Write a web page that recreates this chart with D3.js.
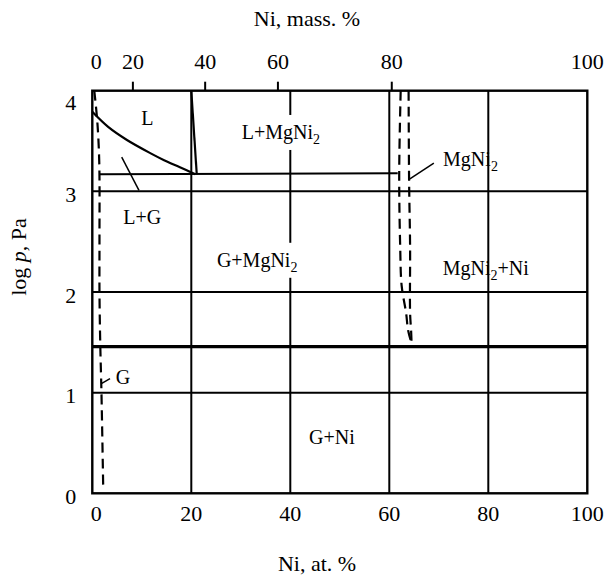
<!DOCTYPE html>
<html>
<head>
<meta charset="utf-8">
<script src="https://cdn.jsdelivr.net/npm/d3@7.9.0/dist/d3.min.js"></script>
<style>
  html, body { margin: 0; padding: 0; background: #fff; }
  svg { display: block; }
  svg text { font-family: "Liberation Serif", "Times New Roman", Times, serif; }
</style>
</head>
<body>
<svg id="chart" width="605" height="578" font-family="Liberation Serif, Times New Roman, serif"></svg>
<script>
/* ------------------------------- data ------------------------------- */
// bottom axis: Ni, at. %   left axis: log p, Pa
const atTicks = [0, 20, 40, 60, 80, 100];
const logTicks = [0, 1, 2, 3, 4];
// top axis: Ni, mass. % labels and where they sit on the at.% scale
const massLabels = [0, 20, 40, 60, 80, 100];
const massAtPos = [0, 8.2, 22.8, 37.5, 60.5, 100];

// liquidus of Mg-rich melt (solid)
const liqX = [0, 3.2, 7.0, 11.7, 14.5, 17.7, 20.8];
const liqY = [3.79, 3.64, 3.51, 3.38, 3.31, 3.24, 3.17];
// steep MgNi2 liquidus (solid)
const mgLiqX = [20.0, 21.1];
const mgLiqY = [4.0, 3.17];
// three-phase horizontal (solid)
const triX = [1.55, 61.7];
const triY = [3.17, 3.18];
// MgNi2 decomposition pressure (thick solid)
const decompX = [0, 100];
const decompY = [1.457, 1.457];
// gas boundary on the Mg side (dashed)
const gasX = [0.4, 1.0, 1.4, 1.45, 1.45, 1.6, 1.85, 2.2];
const gasY = [4.0, 3.7, 3.3, 2.5, 2.0, 1.5, 1.0, 0.07];
// MgNi2 homogeneity range (dashed)
const mgLeftX = [62.3, 62.0, 62.2, 62.5, 63.4, 63.8, 64.5];
const mgLeftY = [4.0, 3.17, 2.45, 2.06, 1.79, 1.62, 1.49];
const mgRightX = [63.9, 64.0, 64.2, 64.2, 64.4, 64.5];
const mgRightY = [4.0, 3.1, 2.45, 1.79, 1.62, 1.49];

// phase field labels: [text, sub, after, at%, log p, knockout]
const fieldLabels = [
  ["L", "", "", 11.1, 3.73, false],
  ["L+MgNi", "2", "", 38.1, 3.59, true],
  ["L+G", "", "", 10.1, 2.75, false],
  ["G+MgNi", "2", "", 33.3, 2.32, true],
  ["MgNi", "2", "", 76.4, 3.32, false],
  ["MgNi", "2", "+Ni", 79.5, 2.24, false],
  ["G", "", "", 6.2, 1.16, false],
  ["G+Ni", "", "", 48.4, 0.56, false]
];
// leader lines: [x1, y1, x2, y2] in at% / log p
const leaders = [
  [5.94, 3.34, 9.43, 3.01],
  [69.0, 3.28, 64.0, 3.12],
  [3.58, 1.14, 1.82, 1.09]
];

/* ------------------------------ scales ------------------------------ */
const svg = d3.select("#chart");
const x = d3.scaleLinear().domain([0, 100]).range([92.3, 587.3]);
const y = d3.scaleLinear().domain([0, 4]).range([493.3, 90.7]);

const zip = (xs, ys) => xs.map((v, i) => [v, ys[i]]);
const line = d3.line().x(d => x(d[0])).y(d => y(d[1]));
const smooth = d3.line().x(d => x(d[0])).y(d => y(d[1])).curve(d3.curveCatmullRom.alpha(0.5));

/* ------------------------------- grid ------------------------------- */
const grid = svg.append("g").attr("stroke", "#000").attr("stroke-width", 2);
grid.selectAll("line.v")
  .data(atTicks.slice(1, -1))
  .join("line")
  .attr("class", "v")
  .attr("x1", d => x(d)).attr("x2", d => x(d))
  .attr("y1", y(4)).attr("y2", y(0));
grid.selectAll("line.h")
  .data(logTicks.slice(1, -1))
  .join("line")
  .attr("class", "h")
  .attr("x1", x(0)).attr("x2", x(100))
  .attr("y1", d => y(d)).attr("y2", d => y(d));

// white knockouts behind some labels (the 40 at.% line is broken there)
const knock = svg.append("g");

// frame
svg.append("rect")
  .attr("x", x(0)).attr("y", y(4))
  .attr("width", x(100) - x(0)).attr("height", y(0) - y(4))
  .attr("fill", "none").attr("stroke", "#000").attr("stroke-width", 2.4);

/* ------------------------------- axes ------------------------------- */
const fs = 22;
// bottom labels
svg.append("g").selectAll("text")
  .data(atTicks)
  .join("text")
  .attr("x", d => x(d) + (d === 0 ? 4 : 0))
  .attr("y", 513.5).attr("dy", "0.35em")
  .attr("text-anchor", "middle").attr("font-size", fs)
  .text(d => d);
// left labels
svg.append("g").selectAll("text")
  .data(logTicks)
  .join("text")
  .attr("x", 70.7)
  .attr("y", d => y(d) + (d === 4 ? 12 : 3)).attr("dy", "0.35em")
  .attr("text-anchor", "middle").attr("font-size", fs)
  .text(d => d);
// top axis (mass %)
const massAxis = svg.append("g");
massAxis.selectAll("line")
  .data(massAtPos.slice(1, -1))
  .join("line")
  .attr("x1", d => x(d)).attr("x2", d => x(d))
  .attr("y1", y(4) - 9).attr("y2", y(4))
  .attr("stroke", "#000").attr("stroke-width", 2);
massAxis.selectAll("text")
  .data(massLabels)
  .join("text")
  .attr("x", (d, i) => x(massAtPos[i]) + (d === 0 ? 4 : 0))
  .attr("y", 61.5).attr("dy", "0.35em")
  .attr("text-anchor", "middle").attr("font-size", fs)
  .text(d => d);

// titles
svg.append("text")
  .attr("x", 307).attr("y", 18).attr("dy", "0.35em")
  .attr("text-anchor", "middle").attr("font-size", fs)
  .text("Ni, mass. %");
svg.append("text")
  .attr("x", 317).attr("y", 563).attr("dy", "0.35em")
  .attr("text-anchor", "middle").attr("font-size", fs)
  .text("Ni, at. %");
const yt = svg.append("text")
  .attr("transform", "translate(18,257) rotate(-90)")
  .attr("dy", "0.35em")
  .attr("text-anchor", "middle").attr("font-size", fs);
yt.append("tspan").text("log ");
yt.append("tspan").attr("font-style", "italic").text("p");
yt.append("tspan").text(", Pa");

/* ------------------------------ curves ------------------------------ */
const curves = svg.append("g").attr("fill", "none").attr("stroke", "#000");
curves.append("path").attr("d", smooth(zip(liqX, liqY))).attr("stroke-width", 2.2);
curves.append("path").attr("d", line(zip(mgLiqX, mgLiqY))).attr("stroke-width", 2.2);
curves.append("path").attr("d", line(zip(triX, triY))).attr("stroke-width", 2);
curves.append("path").attr("d", line(zip(decompX, decompY))).attr("stroke-width", 3.2);
curves.append("path").attr("d", smooth(zip(gasX, gasY)))
  .attr("stroke-width", 2.2).attr("stroke-dasharray", "10,6");
curves.append("path").attr("d", smooth(zip(mgLeftX, mgLeftY)))
  .attr("stroke-width", 2.2).attr("stroke-dasharray", "10,6");
curves.append("path").attr("d", smooth(zip(mgRightX, mgRightY)))
  .attr("stroke-width", 2.2).attr("stroke-dasharray", "10,6");

// leaders
svg.append("g").selectAll("line")
  .data(leaders)
  .join("line")
  .attr("x1", d => x(d[0])).attr("y1", d => y(d[1]))
  .attr("x2", d => x(d[2])).attr("y2", d => y(d[3]))
  .attr("stroke", "#000").attr("stroke-width", 1.5);

/* ------------------------------ labels ------------------------------ */
const labs = svg.append("g").attr("font-size", 20).attr("text-anchor", "middle");
fieldLabels.forEach(([t, sub, after, ax, ly, ko]) => {
  const tx = labs.append("text")
    .attr("x", x(ax)).attr("y", y(ly)).attr("dy", "0.35em");
  tx.append("tspan").text(t);
  if (sub) {
    tx.append("tspan").attr("font-size", 14).attr("dy", 5).text(sub);
  }
  if (after) {
    tx.append("tspan").attr("dy", -5).text(after);
  }
  if (ko) {
    const b = tx.node().getBBox();
    knock.append("rect")
      .attr("x", b.x - 2).attr("y", y(ly) - 17)
      .attr("width", b.width + 4).attr("height", 35)
      .attr("fill", "#fff");
  }
});
</script>
</body>
</html>
